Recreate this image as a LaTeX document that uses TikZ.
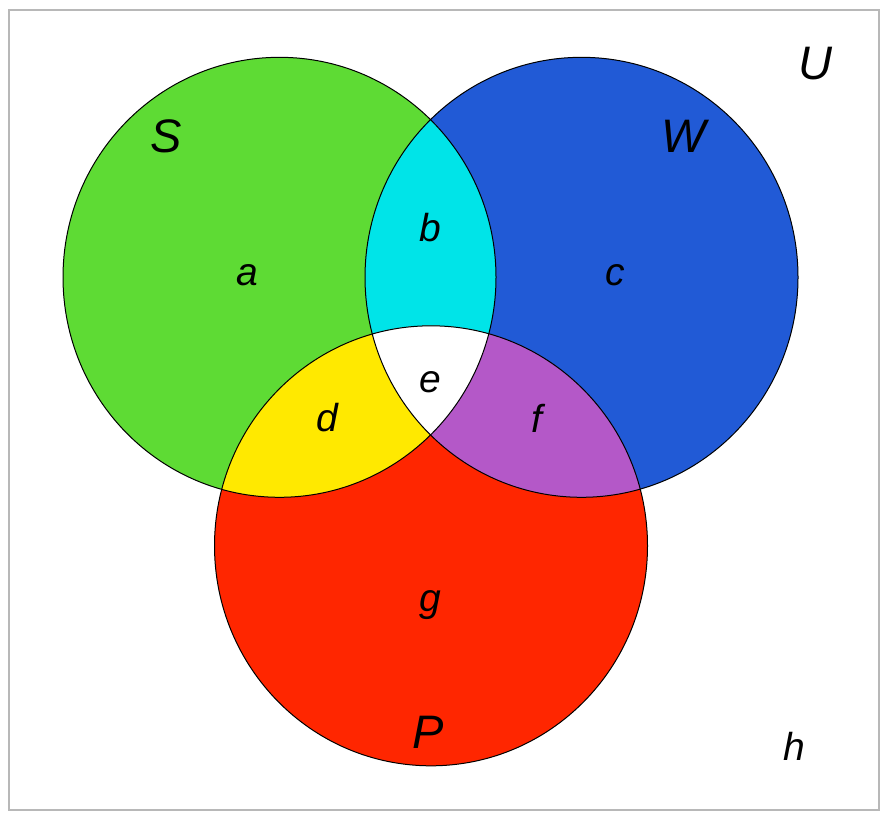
\documentclass[tikz,border=0pt]{standalone}
\usepackage{fontspec}
\setmainfont{Liberation Sans}
\definecolor{onlyS}{RGB}{94,219,52}
\definecolor{onlyW}{RGB}{33,90,214}
\definecolor{onlyP}{RGB}{255,38,0}
\definecolor{SandW}{RGB}{0,228,232}
\definecolor{SandP}{RGB}{255,233,0}
\definecolor{WandP}{RGB}{180,88,200}
\begin{document}
\begin{tikzpicture}[x=0.5pt,y=-0.5pt,
  region/.style={font=\itshape\fontsize{19.5}{20}\selectfont},
  setname/.style={font=\itshape\fontsize{23.5}{24}\selectfont}]

\pgfmathsetmacro\rx{216.5}
\pgfmathsetmacro\ry{220}

\useasboundingbox (0,0) rectangle (881,813);
\draw[black!28,line width=1pt] (9,10) rectangle (879,810);

\coordinate (cS) at (279.5,277.3);
\coordinate (cW) at (581.5,277.3);
\coordinate (cP) at (431,545.8);

% single sets and the overlaps
\fill[onlyS] (cS) circle[x radius=\rx, y radius=\ry];
\fill[onlyW] (cW) circle[x radius=\rx, y radius=\ry];
\begin{scope}
\clip (cS) circle[x radius=\rx, y radius=\ry];
\fill[SandW] (cW) circle[x radius=\rx, y radius=\ry];
\end{scope}
\fill[onlyP] (cP) circle[x radius=\rx, y radius=\ry];
\begin{scope}
\clip (cP) circle[x radius=\rx, y radius=\ry];
\fill[SandP] (cS) circle[x radius=\rx, y radius=\ry];
\fill[WandP] (cW) circle[x radius=\rx, y radius=\ry];
\clip (cS) circle[x radius=\rx, y radius=\ry];
\fill[white] (cW) circle[x radius=\rx, y radius=\ry];
\end{scope}

\foreach \c in {cS,cW,cP} {
  \draw[line width=0.5pt] (\c) circle[x radius=\rx, y radius=\ry];
}

\node[setname] (nameS) at (166,136) {S};
\node[setname] (nameW) at (684,136) {W};
\node[setname] (nameP) at (428,732) {P};
\node[setname] (nameU) at (815,64) {U};

\node[region] (ra) at (247,275) {a};
\node[region] (rb) at (430,228) {b};
\node[region] (rc) at (615,275) {c};
\node[region] (rd) at (327,418) {d};
\node[region] (re) at (430,382) {e};
\node[region] (rf) at (537,418) {f};
\node[region] (rg) at (430,605) {g};
\node[region] (rh) at (794,746) {h};
\end{tikzpicture}
\end{document}
